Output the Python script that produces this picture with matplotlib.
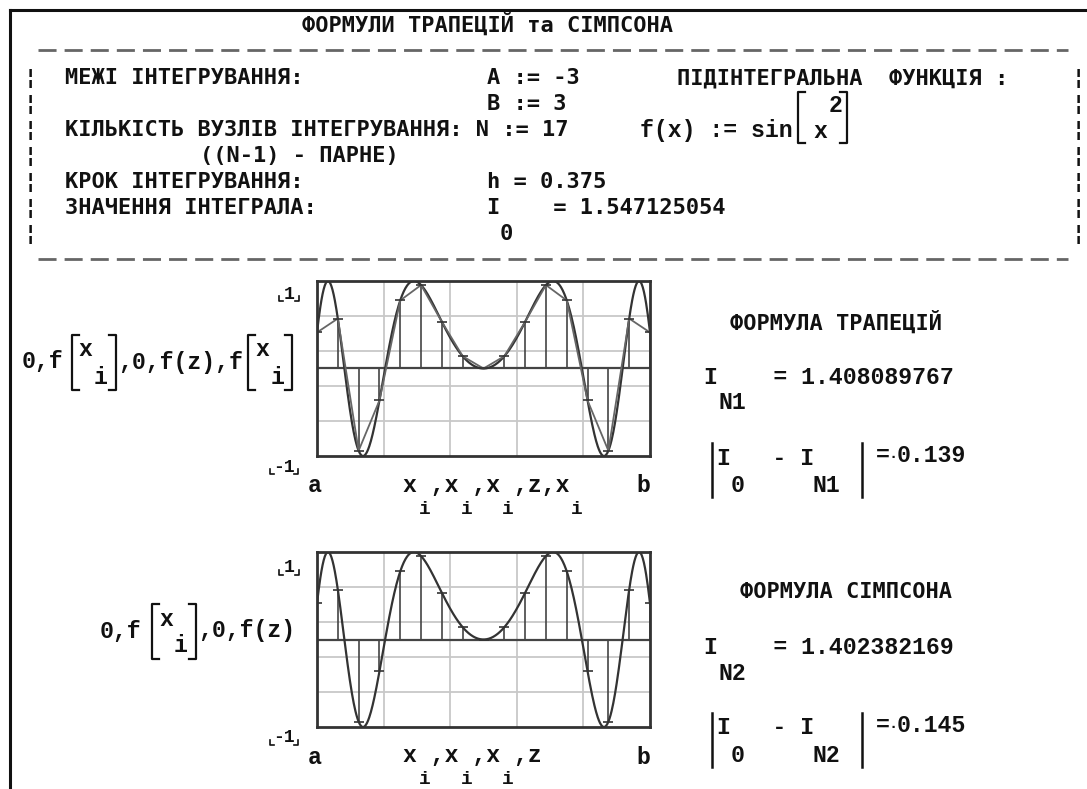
import numpy as np
import matplotlib
matplotlib.use("Agg")
import matplotlib.pyplot as plt
from matplotlib.lines import Line2D

W, H = 1087, 789

# integration setup shown on the sheet
A, B, N = -3, 3, 17
h = 0.375
nodes = [-3.0, -2.625, -2.25, -1.875, -1.5, -1.125, -0.75, -0.375, 0.0,
         0.375, 0.75, 1.125, 1.5, 1.875, 2.25, 2.625, 3.0]
f_nodes = [0.4121, 0.5708, -0.9393, -0.3654, 0.7781, 0.9537, 0.5333, 0.1402, 0.0,
           0.1402, 0.5333, 0.9537, 0.7781, -0.3654, -0.9393, 0.5708, 0.4121]
I0 = "1.547125054"
I_trap = "1.408089767"
I_simp = "1.402382169"
err_trap = "0.139"
err_simp = "0.145"


def f(x):
    # f(x) := sin(x^2), as written on the sheet
    return np.sin(x ** 2)


z = np.linspace(A, B, 600)

HEAD = dict(family="DejaVu Sans Mono", fontweight="bold", fontsize=15.8, color="#111111")
MATH = dict(family="Liberation Mono", fontweight="bold", fontsize=16.7, color="#111111")

fig = plt.figure(figsize=(W / 100, H / 100), dpi=100)
fig.patch.set_facecolor("white")


def P(x, y):
    return x / W, 1 - y / H


def txt(x, y, s, style, ha="left", va="center", **kw):
    d = dict(style)
    d.update(kw)
    fig.text(*P(x, y), s, ha=ha, va=va, **d)


def line(xs, ys, lw=1.5, color="#111111", **kw):
    fig.add_artist(Line2D([x / W for x in xs], [1 - y / H for y in ys],
                          transform=fig.transFigure, lw=lw, color=color, **kw))


def bracket(x, y0, y1, side, serif=7):
    d = serif if side == "l" else -serif
    line([x + d, x, x, x + d], [y0, y0, y1, y1], lw=1.6)


def corner_label(x, y, s):
    txt(x, y, s, MATH, ha="center", fontsize=13)
    half = 6 + 4 * len(s)
    for sx, d in [(x - half, 4), (x + half, -4)]:
        line([sx, sx, sx + d], [y + 2, y + 7, y + 7], lw=1.2)


# window frame
line([10, 10], [10, H], lw=2.2)
line([10, W], [10, 10], lw=2.2)

# header block
txt(487, 24, "ФОРМУЛИ ТРАПЕЦІЙ та СІМПСОНА", HEAD, ha="center")
for yy in (50, 259):
    line([38, 1068], [yy, yy], lw=2.0, color="#666666", dashes=(6.5, 2.9))
for yy in (78, 104, 130, 156, 182, 208, 234):
    txt(30, yy, "¦", HEAD, ha="center")
    txt(1078, yy, "¦", HEAD, ha="center")

txt(65, 78, "МЕЖІ ІНТЕГРУВАННЯ:", HEAD)
txt(487, 78, "A := -3", HEAD)
txt(677, 78, "ПІДІНТЕГРАЛЬНА  ФУНКЦІЯ :", HEAD)
txt(487, 104, "B := 3", HEAD)
txt(65, 130, "КІЛЬКІСТЬ ВУЗЛІВ ІНТЕГРУВАННЯ: N := 17", HEAD)
txt(200, 156, "((N-1) - ПАРНЕ)", HEAD)
txt(65, 182, "КРОК ІНТЕГРУВАННЯ:", HEAD)
txt(487, 182, "h = 0.375", HEAD)
txt(65, 208, "ЗНАЧЕННЯ ІНТЕГРАЛА:", HEAD)
txt(487, 208, "I    = " + I0, HEAD)
txt(500, 234, "0", HEAD)

# f(x) := sin[x^2]
txt(640, 131, "f(x) := sin", MATH)
bracket(798, 92, 143, "l")
bracket(847, 92, 143, "r")
txt(820, 131, "x", MATH, ha="center")
txt(836, 105, "2", MATH, ha="center")


def draw_plot(top, trapezoid):
    ax = fig.add_axes([317 / W, 1 - (top + 175) / H, 333 / W, 175 / H])
    ax.set_xlim(A, B)
    ax.set_ylim(-1, 1)
    for gx in (-1.8, -0.6, 0.6, 1.8):
        ax.axvline(gx, color="#c8c8c8", lw=1.3, zorder=0)
    for gy in (-0.6, -0.2, 0.2, 0.6):
        ax.axhline(gy, color="#c8c8c8", lw=1.3, zorder=0)
    ax.plot([A, B], [0, 0], color="#444444", lw=1.6)
    ax.vlines(nodes, 0, f_nodes, color="#444444", lw=1.2)
    ax.plot(z, f(z), color="#333333", lw=1.6)
    if trapezoid:
        ax.plot(nodes, f_nodes, color="#666666", lw=1.3)
    ax.plot(nodes, f_nodes, ls="none", marker="_", ms=7, mew=1.2, color="#333333")
    ax.set_xticks([])
    ax.set_yticks([])
    for s in ax.spines.values():
        s.set_linewidth(2)
        s.set_color("#333333")
    return ax


# plot 1: trapezoid rule
draw_plot(281, True)
corner_label(289, 294, "1")
corner_label(284, 467, "-1")
txt(22, 362, "0,f", MATH)
bracket(72, 335, 390, "l")
txt(85, 350, "x", MATH, ha="center")
txt(101, 377, "i", MATH, ha="center")
bracket(116, 335, 390, "r")
txt(118, 362, ",0,f(z),f", MATH)
bracket(248, 335, 390, "l")
txt(262, 350, "x", MATH, ha="center")
txt(278, 377, "i", MATH, ha="center")
bracket(292, 335, 390, "r")
txt(315, 485, "a", MATH, ha="center")
txt(643, 485, "b", MATH, ha="center")
txt(403, 485, "x ,x ,x ,z,x", MATH)
for sx in (425, 467, 508, 577):
    txt(sx, 509, "i", MATH, ha="center", fontsize=14)

txt(730, 322, "ФОРМУЛА ТРАПЕЦІЙ", HEAD)
txt(704, 377, "I    = " + I_trap, MATH)
txt(718, 403, "N1", MATH)
line([712, 712], [443, 497], lw=1.8)
line([862, 862], [443, 497], lw=1.8)
txt(717, 458, "I   - I", MATH)
txt(731, 485, "0", MATH)
txt(813, 485, "N1", MATH)
txt(876, 455, "=", MATH)
txt(889, 457, "·", MATH, fontsize=11)
txt(897, 455, err_trap, MATH)

# plot 2: Simpson rule
draw_plot(552, False)
corner_label(289, 568, "1")
corner_label(284, 738, "-1")
txt(100, 631, "0,f", MATH)
bracket(152, 604, 659, "l")
txt(166, 619, "x", MATH, ha="center")
txt(181, 646, "i", MATH, ha="center")
bracket(196, 604, 659, "r")
txt(198, 631, ",0,f(z)", MATH)
txt(315, 757, "a", MATH, ha="center")
txt(643, 757, "b", MATH, ha="center")
txt(403, 756, "x ,x ,x ,z", MATH)
for sx in (425, 467, 508):
    txt(sx, 780, "i", MATH, ha="center", fontsize=14)

txt(740, 592, "ФОРМУЛА СІМПСОНА", HEAD)
txt(704, 647, "I    = " + I_simp, MATH)
txt(718, 673, "N2", MATH)
line([712, 712], [713, 767], lw=1.8)
line([862, 862], [713, 767], lw=1.8)
txt(717, 728, "I   - I", MATH)
txt(731, 755, "0", MATH)
txt(813, 755, "N2", MATH)
txt(876, 725, "=", MATH)
txt(889, 727, "·", MATH, fontsize=11)
txt(897, 725, err_simp, MATH)

fig.savefig("out.png", dpi=100)
